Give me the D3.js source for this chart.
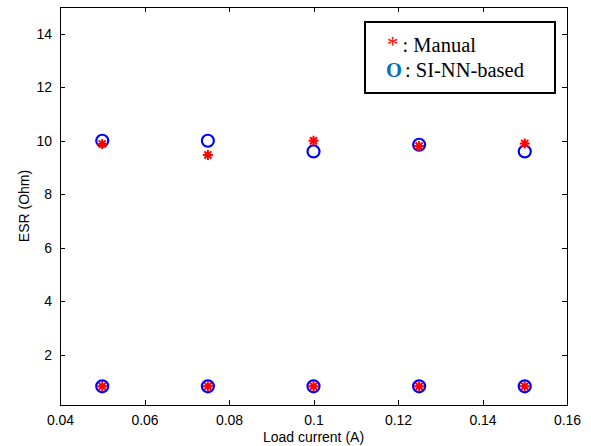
<!DOCTYPE html>
<html>
<head>
<meta charset="utf-8">
<script src="https://cdn.jsdelivr.net/npm/d3@7"></script>
<style>
  html, body { margin: 0; padding: 0; background: #fff; }
  svg { display: block; }
  .axis text { font-family: "Liberation Sans", Arial, sans-serif; font-size: 14px; fill: #000; }
  .axis path, .axis line { stroke: #000; stroke-width: 1px; shape-rendering: crispEdges; }
</style>
</head>
<body>
<svg id="chart" width="591" height="446"></svg>
<script>
// Load current settings (A)
const loadCurrent = [0.05, 0.075, 0.1, 0.125, 0.15];

// ESR estimates (Ohm), high and low capacitor groups
const manualHigh = [9.88, 9.47, 10.0, 9.8, 9.9];
const siNNHigh   = [10.0, 10.0, 9.6, 9.85, 9.6];
const manualLow  = [0.82, 0.82, 0.82, 0.82, 0.82];
const siNNLow    = [0.82, 0.82, 0.82, 0.82, 0.82];

const xTicks = [0.04, 0.06, 0.08, 0.1, 0.12, 0.14, 0.16];
const yTicks = [2, 4, 6, 8, 10, 12, 14];

const xLabel = "Load current (A)";
const yLabel = "ESR (Ohm)";
const legendManual = ": Manual";
const legendNN = ": SI-NN-based";

const svg = d3.select("#chart");
const plotL = 60, plotR = 567, plotT = 7, plotB = 405;

const x = d3.scaleLinear().domain([0.04, 0.16]).range([plotL, plotR]);
const y = d3.scaleLinear().domain([0.12, 15]).range([plotB, plotT]);

// Frame
svg.append("rect")
  .attr("x", plotL).attr("y", plotT)
  .attr("width", plotR - plotL).attr("height", plotB - plotT)
  .attr("fill", "none").attr("stroke", "#000").attr("stroke-width", 1)
  .attr("shape-rendering", "crispEdges");

const fmtX = d => String(+d.toFixed(2));

// Bottom axis with labels, ticks pointing inward
svg.append("g").attr("class", "axis")
  .attr("transform", `translate(0,${plotB})`)
  .call(d3.axisBottom(x).tickValues(xTicks).tickFormat(fmtX).tickSizeInner(-5).tickSizeOuter(0).tickPadding(10))
  .call(g => g.select(".domain").remove());

// Top axis, ticks only
svg.append("g").attr("class", "axis")
  .attr("transform", `translate(0,${plotT})`)
  .call(d3.axisTop(x).tickValues(xTicks).tickFormat("").tickSizeInner(-5).tickSizeOuter(0))
  .call(g => g.select(".domain").remove());

// Left axis with labels
svg.append("g").attr("class", "axis")
  .attr("transform", `translate(${plotL},0)`)
  .call(d3.axisLeft(y).tickValues(yTicks).tickFormat(d3.format("d")).tickSizeInner(-5).tickSizeOuter(0).tickPadding(8))
  .call(g => g.select(".domain").remove());

// Right axis, ticks only
svg.append("g").attr("class", "axis")
  .attr("transform", `translate(${plotR},0)`)
  .call(d3.axisRight(y).tickValues(yTicks).tickFormat("").tickSizeInner(-5).tickSizeOuter(0))
  .call(g => g.select(".domain").remove());

// Axis titles
svg.append("text")
  .attr("x", (plotL + plotR) / 2).attr("y", 442)
  .attr("text-anchor", "middle")
  .attr("font-family", "Liberation Sans, Arial, sans-serif")
  .attr("font-size", 14)
  .text(xLabel);

svg.append("text")
  .attr("transform", `translate(29,${(plotT + plotB) / 2}) rotate(-90)`)
  .attr("text-anchor", "middle")
  .attr("font-family", "Liberation Sans, Arial, sans-serif")
  .attr("font-size", 14)
  .text(yLabel);

// Eight-armed asterisk marker path
function asteriskPath(r) {
  const d = r * Math.SQRT1_2;
  return `M${-r},0L${r},0M0,${-r}L0,${r}M${-d},${-d}L${d},${d}M${-d},${d}L${d},${-d}`;
}

const pairs = (xs, ys) => xs.map((v, i) => [v, ys[i]]);

// SI-NN-based estimates: open blue circles
const circles = pairs(loadCurrent, siNNHigh).concat(pairs(loadCurrent, siNNLow));
svg.append("g").selectAll("circle").data(circles).join("circle")
  .attr("cx", d => x(d[0])).attr("cy", d => y(d[1]))
  .attr("r", 6)
  .attr("fill", "none").attr("stroke", "#0000ff").attr("stroke-width", 2.2);

// Manual estimates: red asterisks
const stars = pairs(loadCurrent, manualHigh).concat(pairs(loadCurrent, manualLow));
svg.append("g").selectAll("path").data(stars).join("path")
  .attr("transform", d => `translate(${x(d[0])},${y(d[1])})`)
  .attr("d", asteriskPath(5))
  .attr("fill", "none").attr("stroke", "#ff0000").attr("stroke-width", 2);

// Legend
const lg = svg.append("g");
lg.append("rect")
  .attr("x", 365).attr("y", 22).attr("width", 190).attr("height", 71)
  .attr("fill", "#fff").attr("stroke", "#000").attr("stroke-width", 2);

const serif = "Liberation Serif, Times New Roman, serif";
const t1 = lg.append("text").attr("x", 387).attr("y", 52)
  .attr("font-family", serif).attr("font-size", 20.5);
t1.append("tspan").attr("fill", "#ff0000").attr("font-size", 23).text("*");
t1.append("tspan").attr("fill", "#000").attr("dx", 4).text(legendManual);

const t2 = lg.append("text").attr("x", 386).attr("y", 77)
  .attr("font-family", serif).attr("font-size", 20.5);
t2.append("tspan").attr("fill", "#0070c0").attr("font-weight", "bold").text("O");
t2.append("tspan").attr("fill", "#000").attr("dx", 3).text(legendNN);
</script>
</body>
</html>
